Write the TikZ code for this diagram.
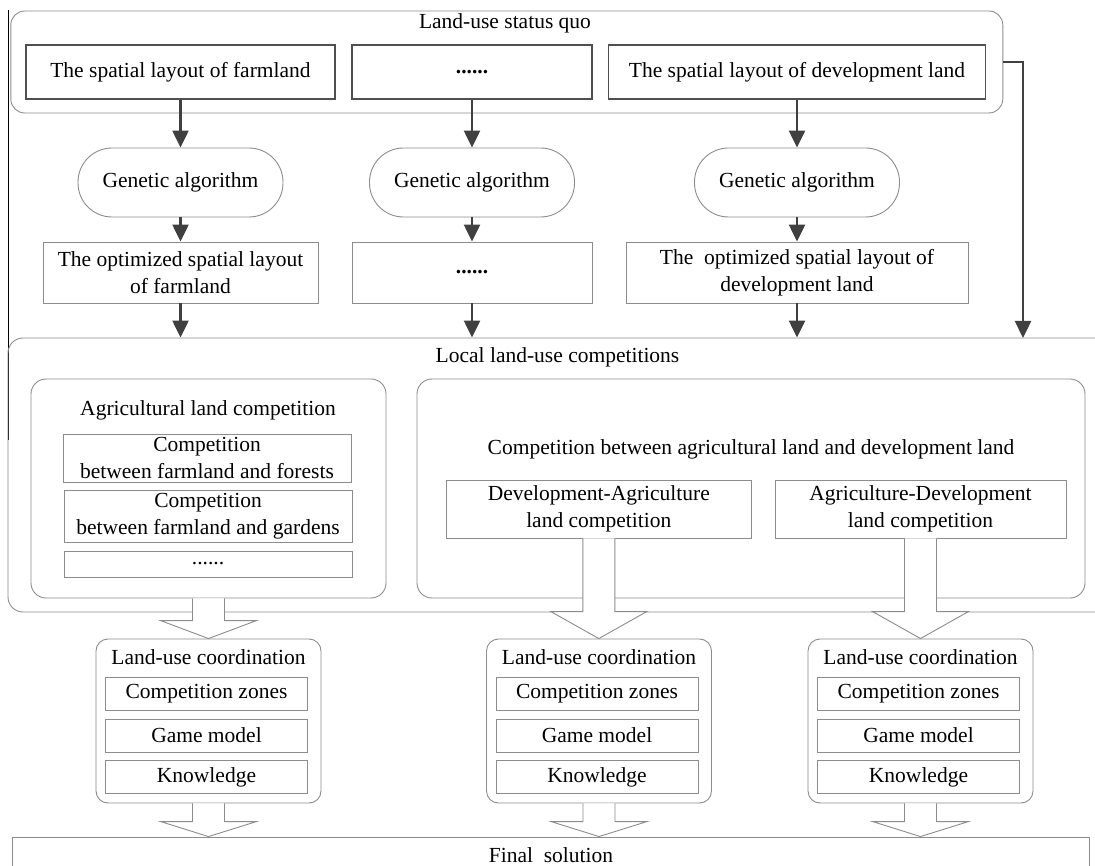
\documentclass[tikz,border=0pt]{standalone}
\usepackage{fontspec}
\setmainfont{Liberation Serif}
\usepackage{xcolor}
\usepackage{tikz}
\usetikzlibrary{positioning,calc,arrows.meta}

\definecolor{edgegray}{RGB}{140,140,140}
\definecolor{rowgray}{RGB}{80,80,80}
\definecolor{arrowgray}{RGB}{64,64,64}

% hollow block arrow from the bottom of #1 to the top of #2, head length #3
\newcommand{\fatarrow}[3]{%
  \draw[fatline] let \p1=(#1.south), \p2=(#2.north) in
    (\x1-16pt,\y1) -- (\x1-16pt,\y2+#3pt) -- (\x1-48pt,\y2+#3pt) -- (\x1,\y2)
    -- (\x1+48pt,\y2+#3pt) -- (\x1+16pt,\y2+#3pt) -- (\x1+16pt,\y1);
}

\begin{document}
\begin{tikzpicture}[x=1pt, y=-1pt, font=\fontsize{21.5}{27}\selectfont,
  groupbox/.style={draw=edgegray, line width=0.9pt, rounded corners=14pt, inner sep=0pt},
  rowbox/.style={draw=rowgray, line width=1.2pt, minimum height=54pt, inner sep=2pt},
  optbox/.style={draw=edgegray, line width=0.9pt, minimum height=61pt, inner sep=2pt, align=center},
  gabox/.style={draw=edgegray, line width=0.9pt, rounded corners=34pt, minimum width=205pt, minimum height=69pt},
  subbox/.style={draw=edgegray, line width=0.9pt, minimum width=288pt, inner sep=0pt, align=center},
  itembox/.style={draw=edgegray, line width=0.9pt, minimum width=202pt, minimum height=33pt, inner sep=0pt},
  arr/.style={-{Triangle[length=17pt,width=16pt]}, draw=arrowgray, line width=2.4pt},
  fatline/.style={draw=edgegray, fill=white, line width=0.9pt}]

\useasboundingbox (0,0) rectangle (1095,866);
\clip (0,0) rectangle (1095,866);

% left page edge
\coordinate (edgetop) at (8.4,10);
\coordinate (edgebot) at (8.4,440);
\draw[black, line width=1.3pt] (edgetop) -- (edgebot);

% Land-use status quo
\node[groupbox, minimum width=992pt, minimum height=102pt] (status) at (506.8,62) {};
\node (statustitle) at (505,23) {Land-use status quo};
\foreach \n/\x/\w/\txt in {1/180.5/309/{The spatial layout of farmland},
                           2/472/240/{\textbf{......}},
                           3/797/377.5/{The spatial layout of development land}} {
    \node[rowbox, minimum width=\w pt] (layout\n) at (\x,72) {\txt};
}

% genetic algorithm and optimized layouts
\node[optbox, minimum width=275pt] (opt1) at (180.5,272.5) {The optimized spatial layout\\of farmland};
\node[optbox, minimum width=240pt] (opt2) at (472,272.5) {\textbf{......}};
\node[optbox, minimum width=342pt] (opt3) at (797,272.5) {The\ \ optimized spatial layout of\\development land};
\foreach \n/\x in {1/180.5, 2/472, 3/797} {
    \node[gabox] (ga\n) at (\x,182.5) {Genetic algorithm};
    \draw[arr] (layout\n) -- (ga\n);
    \draw[arr] (ga\n) -- (opt\n);
}

% Local land-use competitions
\node[groupbox, rounded corners=15pt, minimum width=1107pt, minimum height=274pt] (local) at (561.5,475) {};
\node (localtitle) at (557.5,357) {Local land-use competitions};
\foreach \n in {1,2,3} {
    \draw[arr] (opt\n.south) -- (opt\n.south |- local.north);
}
\coordinate (sidein) at (1023,338);
\draw[arr] (status.east) -| (sidein);

% agricultural land competition
\node[groupbox, rounded corners=15pt, minimum width=355pt, minimum height=219pt] (agri) at (208.5,488.5) {};
\node (agrititle) at (208,410) {Agricultural land competition};
\node[subbox, minimum height=48pt] (forests) at (207,458) {Competition\\between farmland and forests};
\node[subbox, minimum height=52pt] (gardens) at (208,516) {Competition\\between farmland and gardens};
\node[subbox, minimum height=26pt] (others) at (208,564) {......};

% agricultural land vs. development land
\node[groupbox, rounded corners=15pt, minimum width=668pt, minimum height=219pt] (mixed) at (751,488.5) {};
\node (mixedtitle) at (751,449) {Competition between agricultural land and development land};
\node[subbox, minimum width=304.5pt, minimum height=58pt] (devagri) at (598.8,509) {Development-Agriculture\\land competition};
\node[subbox, minimum width=291pt, minimum height=58pt] (agridev) at (920.5,509) {Agriculture-Development\\land competition};

% Final solution
\node[draw=edgegray, line width=0.9pt, minimum width=1077pt, minimum height=60pt] (final) at (550.5,867) {};
\node (finaltext) at (551,855) {Final\ \ solution};

% Land-use coordination
\foreach \n/\x in {1/208.5, 2/599, 3/920.5} {
    \node[groupbox, rounded corners=12pt, minimum width=225pt, minimum height=164pt] (coord\n) at (\x,721) {};
    \node (coordtitle\n) at (\x,657) {Land-use coordination};
    \node[itembox] (zones\n) at (\x-2,694) {Competition zones};
    \node[itembox] (game\n) at (\x-2,735.5) {Game model};
    \node[itembox] (know\n) at (\x-2,777) {Knowledge};
}

% hollow arrows
\fatarrow{agri}{coord1}{18}
\fatarrow{devagri}{coord2}{27}
\fatarrow{agridev}{coord3}{27}
\foreach \k in {1,2,3} {
    \fatarrow{coord\k}{final}{15}
}

\end{tikzpicture}
\end{document}
